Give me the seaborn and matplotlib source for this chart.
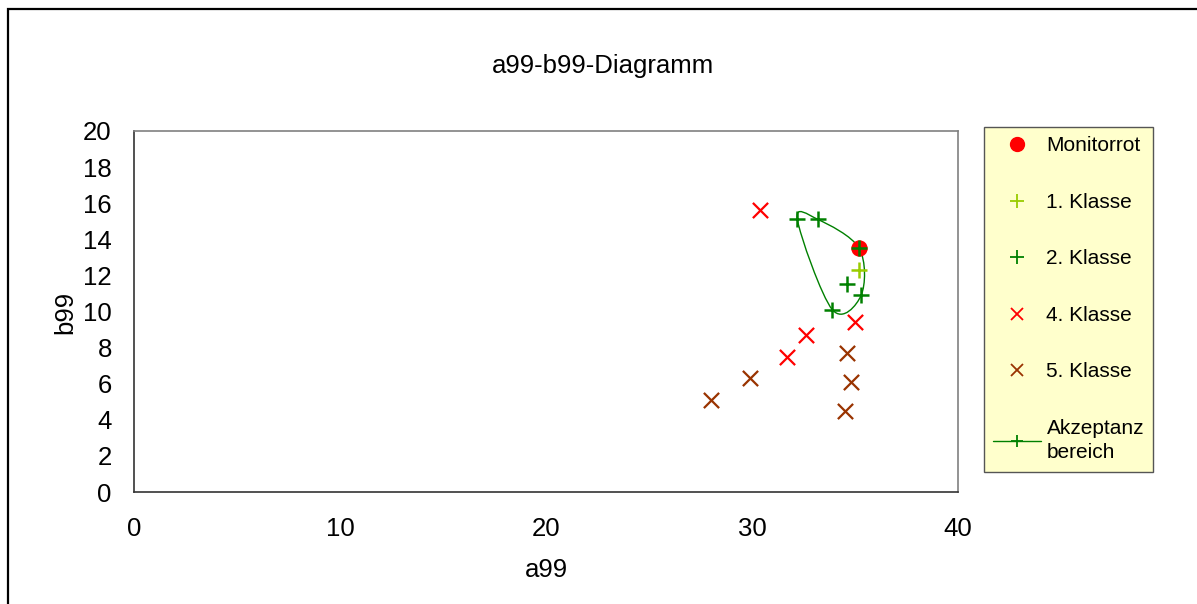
import numpy as np
import pandas as pd
import matplotlib
matplotlib.use("Agg")
import matplotlib.pyplot as plt
import seaborn as sns
from matplotlib.path import Path
from matplotlib.patches import PathPatch, Rectangle
from matplotlib.lines import Line2D

# ------------------------------------------------------------
# a99-b99 diagram: colour classes and acceptance region
# ------------------------------------------------------------

monitor_a = [35.2]
monitor_b = [13.5]

klasse1_a = [35.2]
klasse1_b = [12.3]

klasse2_a = [34.6]
klasse2_b = [11.5]

klasse4_a = [30.4, 32.6, 31.7, 35.0]
klasse4_b = [15.6, 8.7, 7.5, 9.4]

klasse5_a = [28.0, 29.9, 34.6, 34.8, 34.5]
klasse5_b = [5.1, 6.3, 7.7, 6.1, 4.5]

# acceptance region (closed, smoothed in the original)
akzeptanz_a = [32.2, 33.2, 35.2, 35.3, 33.9]
akzeptanz_b = [15.1, 15.1, 13.5, 10.9, 10.1]

x_ticks = [0, 10, 20, 30, 40]
y_ticks = [0, 2, 4, 6, 8, 10, 12, 14, 16, 18, 20]

RED = "#FF0000"
LIME = "#99CC00"
GREEN = "#008000"
BROWN = "#993300"


def smooth_closed_path(xs, ys):
    """Bezier path through the points, closed, like a smoothed spreadsheet line."""
    pts = np.column_stack([xs, ys])
    n = len(pts)
    verts = [pts[0]]
    codes = [Path.MOVETO]
    for i in range(n):
        p0 = pts[(i - 1) % n]
        p1 = pts[i]
        p2 = pts[(i + 1) % n]
        p3 = pts[(i + 2) % n]
        verts += [p1 + (p2 - p0) / 6, p2 - (p3 - p1) / 6, p2]
        codes += [Path.CURVE4] * 3
    return Path(verts, codes)


def main():
    sns.set_style("white")
    plt.rcParams["font.family"] = ["Liberation Sans", "DejaVu Sans"]
    plt.rcParams["text.color"] = "black"
    plt.rcParams["xtick.labelcolor"] = "black"
    plt.rcParams["ytick.labelcolor"] = "black"

    W, H = 1197, 604
    fig = plt.figure(figsize=(W / 100, H / 100), dpi=100)
    ax = fig.add_axes([134 / W, 1 - 492 / H, (958 - 134) / W, (492 - 131) / H])

    # outer chart frame (runs off the right and bottom edges)
    fig.patches.append(Rectangle((8 / W, -0.1), 1.2, 1 - 9 / H + 0.1,
                                 transform=fig.transFigure, fill=False,
                                 edgecolor="black", linewidth=1.6))

    # acceptance curve
    ax.add_patch(PathPatch(smooth_closed_path(akzeptanz_a, akzeptanz_b),
                           facecolor="none", edgecolor=GREEN, linewidth=1.0,
                           zorder=2))

    sns.scatterplot(x=monitor_a, y=monitor_b, ax=ax, color=RED, marker="o",
                    s=140, edgecolor=RED, linewidth=0, zorder=3)
    sns.scatterplot(x=klasse4_a, y=klasse4_b, ax=ax, color=RED, marker="x",
                    s=120, linewidth=1.6, zorder=3)
    sns.scatterplot(x=klasse5_a, y=klasse5_b, ax=ax, color=BROWN, marker="x",
                    s=120, linewidth=1.6, zorder=3)
    sns.scatterplot(x=klasse1_a, y=klasse1_b, ax=ax, color=LIME, marker="+",
                    s=140, linewidth=1.8, zorder=4)
    sns.scatterplot(x=klasse2_a, y=klasse2_b, ax=ax, color=GREEN, marker="+",
                    s=140, linewidth=1.8, zorder=4)
    sns.scatterplot(x=akzeptanz_a, y=akzeptanz_b, ax=ax, color=GREEN, marker="+",
                    s=140, linewidth=1.8, zorder=5)

    ax.set_xlim(0, 40)
    ax.set_ylim(0, 20)
    ax.set_xticks(x_ticks)
    ax.set_yticks(y_ticks)
    ax.tick_params(axis="both", which="major", direction="out", length=7,
                   width=1, color="#808080", labelsize=18.5,
                   labelcolor="black")
    ax.tick_params(axis="x", pad=11)
    ax.tick_params(axis="y", pad=9)

    for side in ["left", "bottom"]:
        ax.spines[side].set_color("#333333")
        ax.spines[side].set_linewidth(1.2)
    for side in ["top", "right"]:
        ax.spines[side].set_color("#808080")
        ax.spines[side].set_linewidth(1.2)

    ax.set_xlabel("")
    ax.set_ylabel("")
    fig.text(546 / W, 1 - 570 / H, "a99", ha="center", va="center",
             fontsize=18.5, color="black")
    fig.text(65 / W, 1 - 312 / H, "b99", ha="center", va="center",
             rotation=90, fontsize=18.5, color="black")
    fig.text(603 / W, 1 - 66 / H, "a99-b99-Diagramm", ha="center",
             va="center", fontsize=18.5, color="black")

    handles = [
        Line2D([], [], linestyle="none", marker="o", color=RED, markersize=10),
        Line2D([], [], linestyle="none", marker="+", color=LIME,
               markersize=10, markeredgewidth=1.3),
        Line2D([], [], linestyle="none", marker="+", color=GREEN,
               markersize=10, markeredgewidth=1.3),
        Line2D([], [], linestyle="none", marker="x", color=RED,
               markersize=9, markeredgewidth=1.3),
        Line2D([], [], linestyle="none", marker="x", color=BROWN,
               markersize=9, markeredgewidth=1.3),
        Line2D([], [], linestyle="-", marker="+", color=GREEN, linewidth=1.0,
               markersize=8, markeredgewidth=1.3),
    ]
    labels = ["Monitorrot", "1. Klasse", "2. Klasse", "4. Klasse",
              "5. Klasse", "Akzeptanz\nbereich"]
    leg = fig.legend(handles, labels, loc="upper left",
                     bbox_to_anchor=(984 / W, 1 - 127 / H),
                     fontsize=15, frameon=True, fancybox=False,
                     facecolor="#FFFFCC", edgecolor="#555555", framealpha=1,
                     labelspacing=1.8, handlelength=2.3, handletextpad=0.25,
                     borderpad=0.45, borderaxespad=0)
    leg.get_frame().set_linewidth(1.0)
    for t in leg.get_texts():
        t.set_color("black")
    leg.get_texts()[-1].set_linespacing(1.35)

    fig.savefig("out.png", dpi=100)


if __name__ == "__main__":
    main()
